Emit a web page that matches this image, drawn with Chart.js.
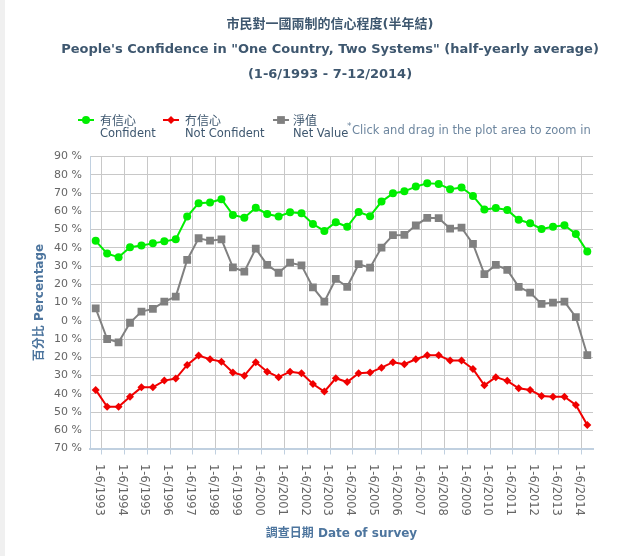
<!DOCTYPE html>
<html>
<head>
<meta charset="utf-8">
<script src="https://cdn.jsdelivr.net/npm/chart.js@4.4.1/dist/chart.umd.min.js"></script>
<style>
  html, body { margin: 0; padding: 0; background: #fff; }
  #wrap { width: 631px; height: 556px; position: relative; }
</style>
</head>
<body>
<div id="wrap"><canvas id="chart"></canvas></div>
<script>
// half-yearly periods 1993 - 2014
const years = [];
for (let y = 1993; y <= 2014; y++) years.push(y);
const periods = [];
years.forEach(y => { periods.push('1-6/' + y); periods.push('7-12/' + y); });

// % confident
const confident = [43.8, 36.8, 34.8, 40.3, 41.2, 42.4, 43.5, 44.6, 57.1, 64.4,
  64.8, 66.6, 58.0, 56.5, 61.9, 58.5, 57.1, 59.4, 58.9, 53.0,
  49.2, 54.0, 51.5, 59.6, 57.3, 65.3, 69.8, 70.9, 73.5, 75.3,
  75.0, 72.1, 73.0, 68.4, 60.9, 61.8, 60.7, 55.3, 53.4, 50.3,
  51.5, 52.3, 47.6, 37.9];
// % not confident (plotted below zero)
const notConfident = [37.9, 47.1, 47.1, 41.6, 36.5, 36.5, 32.8, 31.7, 24.2, 19.1,
  21.1, 22.4, 28.4, 30.1, 22.7, 27.9, 30.9, 27.9, 28.8, 34.7,
  38.8, 31.5, 33.6, 28.8, 28.4, 25.7, 22.7, 23.8, 21.1, 18.9,
  18.9, 21.8, 21.8, 26.4, 35.4, 30.9, 32.9, 37.0, 37.9, 41.2,
  41.6, 41.6, 46.1, 57.1];
// net value
const netValue = [6.8, -10.0, -11.8, -1.1, 5.0, 6.5, 10.5, 13.2, 33.3, 45.2,
  43.9, 44.6, 29.3, 26.9, 39.5, 30.6, 26.3, 31.8, 30.4, 18.3,
  10.5, 22.9, 18.6, 31.0, 29.1, 40.1, 46.9, 47.0, 52.3, 56.4,
  56.2, 50.5, 51.0, 42.1, 25.6, 30.6, 27.9, 18.6, 15.4, 9.2,
  9.9, 10.5, 2.0, -18.8];

const titleLines = ['市民對一國兩制的信心程度(半年結)',
  'People\'s Confidence in "One Country, Two Systems" (half-yearly average)',
  '(1-6/1993 - 7-12/2014)'];
const legendZh = ['有信心', '冇信心', '淨值'];
const legendEn = ['Confident', 'Not Confident', 'Net Value'];
const zoomHint = 'Click and drag in the plot area to zoom in';

const FONT = '"Lucida Grande", "DejaVu Sans", "Noto Sans CJK TC", sans-serif';
const CJK = '"Noto Sans CJK TC", "DejaVu Sans", sans-serif';

// title, two-line legend and downward x labels are drawn by hand
const extrasPlugin = {
  id: 'extras',
  beforeDraw(chart) {
    const ctx = chart.ctx;
    ctx.save();
    ctx.fillStyle = '#f0f0f0';
    ctx.fillRect(0, 0, 5, chart.height);
    ctx.restore();
  },
  afterDraw(chart) {
    const ctx = chart.ctx;
    ctx.save();
    ctx.textBaseline = 'middle';

    ctx.fillStyle = '#3E576F';
    ctx.textAlign = 'center';
    ctx.font = 'bold 13px ' + FONT;
    titleLines.forEach((t, i) => ctx.fillText(t, 330, 25 + i * 25));

    ctx.textAlign = 'left';
    const pos = [{sx: 78, tx: 100}, {sx: 163, tx: 185}, {sx: 273, tx: 293}];
    chart.data.datasets.forEach((ds, i) => {
      const p = pos[i];
      ctx.strokeStyle = ds.borderColor;
      ctx.lineWidth = 2;
      ctx.beginPath();
      ctx.moveTo(p.sx, 120);
      ctx.lineTo(p.sx + 16, 120);
      ctx.stroke();
      ctx.fillStyle = ds.borderColor;
      Chart.helpers.drawPoint(ctx, {pointStyle: ds.pointStyle, radius: ds.pointRadius, borderWidth: 0},
        p.sx + 8, 120);
      ctx.fillStyle = '#3E576F';
      ctx.font = '12px ' + CJK;
      ctx.fillText(legendZh[i], p.tx, 120);
      ctx.font = '11.5px ' + FONT;
      ctx.fillText(legendEn[i], p.tx, 134);
    });
    ctx.fillStyle = '#6D869F';
    ctx.font = '9px ' + FONT;
    ctx.fillText('*', 347, 127);
    ctx.font = '11.5px ' + FONT;
    ctx.fillText(zoomHint, 352, 131);

    const xs = chart.scales.x;
    ctx.fillStyle = '#666';
    ctx.font = '11.5px ' + FONT;
    periods.forEach((lab, i) => {
      if (i % 2) return;
      ctx.save();
      ctx.translate(xs.getPixelForValue(i) + 3, xs.top + 15.5);
      ctx.rotate(Math.PI / 2);
      ctx.fillText(lab, 0, 0);
      ctx.restore();
    });
    ctx.restore();
  }
};

new Chart(document.getElementById('chart'), {
  type: 'line',
  data: {
    labels: periods,
    datasets: [{
      label: legendEn[0],
      data: confident,
      borderColor: '#00ee00',
      backgroundColor: '#00ee00',
      borderWidth: 2,
      pointStyle: 'circle',
      pointRadius: 4,
      pointBorderWidth: 0,
      tension: 0
    }, {
      label: legendEn[1],
      data: notConfident.map(v => -v),
      borderColor: '#f00000',
      backgroundColor: '#f00000',
      borderWidth: 2,
      pointStyle: 'rectRot',
      pointRadius: 4,
      pointBorderWidth: 0,
      tension: 0
    }, {
      label: legendEn[2],
      data: netValue,
      borderColor: '#808080',
      backgroundColor: '#808080',
      borderWidth: 2,
      pointStyle: 'rect',
      pointRadius: 5.5,
      pointBorderWidth: 0,
      tension: 0
    }]
  },
  options: {
    responsive: true,
    maintainAspectRatio: false,
    animation: false,
    layout: { padding: { top: 156.5, right: 38, bottom: 0, left: 0 } },
    plugins: {
      legend: { display: false },
      tooltip: { enabled: false },
      title: { display: false }
    },
    scales: {
      x: {
        offset: true,
        afterFit: s => { s.height = 107.5; },
        ticks: { display: false, autoSkip: false },
        grid: {
          offset: true,
          color: c => (c.index % 2 === 1 ? '#c8c8c8' : 'transparent'),
          tickColor: c => (c.index % 2 === 1 ? '#c0d0e0' : 'transparent'),
          tickLength: 6,
          drawTicks: true
        },
        border: { color: '#c0d0e0', width: 2 },
        title: {
          display: true,
          text: '調查日期 Date of survey',
          color: '#4d759e',
          font: { family: FONT, size: 12, weight: 'bold' },
          padding: { bottom: 15 }
        }
      },
      y: {
        min: -70,
        max: 90,
        afterFit: s => { s.width = 90; },
        ticks: {
          stepSize: 10,
          color: '#666',
          padding: 8,
          font: { family: FONT, size: 11 },
          callback: v => Math.abs(v) + ' %'
        },
        grid: { color: '#c8c8c8', drawTicks: false },
        border: { color: '#c0d0e0', width: 1 },
        title: {
          display: true,
          text: '百分比 Percentage',
          color: '#4d759e',
          font: { family: FONT, size: 12, weight: 'bold' },
          padding: { top: 33 }
        }
      }
    }
  },
  plugins: [extrasPlugin]
});
</script>
</body>
</html>
